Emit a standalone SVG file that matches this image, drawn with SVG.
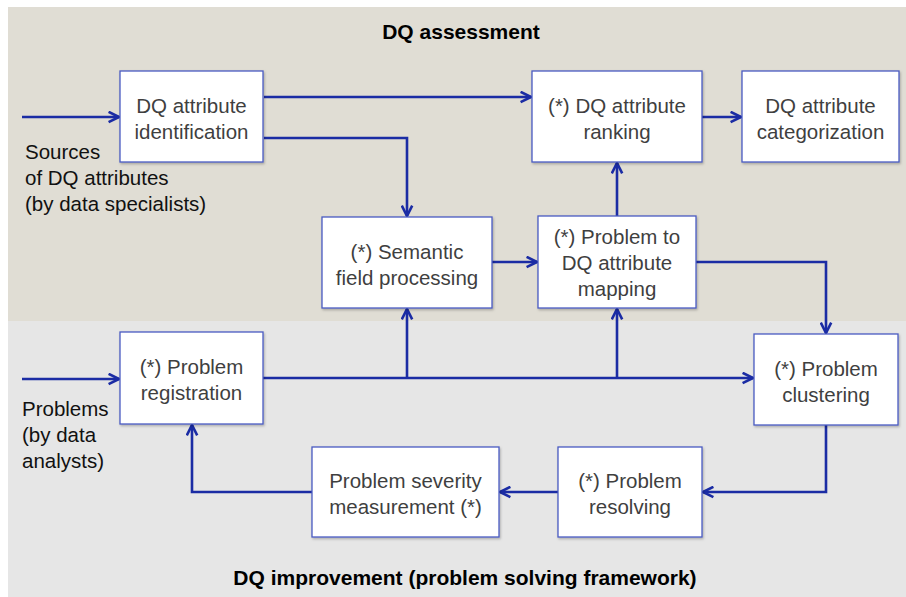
<svg xmlns="http://www.w3.org/2000/svg" width="906" height="597" viewBox="0 0 906 597">
<style>
.box{fill:#ffffff;stroke:#4a5bc2;stroke-width:1.3;filter:url(#sh)}
.nt{font-family:"Liberation Sans",Arial,sans-serif;font-size:20.5px;fill:#3f3f3f;text-anchor:middle}
.side{font-family:"Liberation Sans",Arial,sans-serif;font-size:20.5px;fill:#111111}
.title{font-family:"Liberation Sans",Arial,sans-serif;font-size:21px;font-weight:bold;fill:#000000;text-anchor:middle}
.c{fill:none;stroke:#1b2ca4;stroke-width:2.6;stroke-linejoin:miter;marker-end:url(#ah)}
</style>
<defs>
<marker id="ah" viewBox="0 0 10 10" refX="9" refY="5" markerWidth="5" markerHeight="5" markerUnits="strokeWidth" orient="auto">
<path d="M1,1 L9,5 L1,9" fill="none" stroke="#1b2ca4" stroke-width="2"/>
</marker>
<filter id="sh" x="-5%" y="-5%" width="115%" height="120%">
<feDropShadow dx="1" dy="1.5" stdDeviation="1" flood-color="#000000" flood-opacity="0.25"/>
</filter>
</defs>
<rect x="0" y="0" width="906" height="597" fill="#ffffff"/>
<rect x="8" y="7" width="898" height="314" fill="#e0ddd4"/>
<rect x="8" y="321" width="898" height="276" fill="#e6e6e6"/>
<text class="title" x="461" y="39">DQ assessment</text>
<text class="title" x="465" y="585">DQ improvement (problem solving framework)</text>
<g id="side-labels">
<text class="side" x="25" y="159">Sources</text>
<text class="side" x="25" y="185">of DQ attributes</text>
<text class="side" x="25" y="211">(by data specialists)</text>
<text class="side" x="22" y="416">Problems</text>
<text class="side" x="22" y="442">(by data</text>
<text class="side" x="22" y="468">analysts)</text>
</g>
<g id="connectors">
<path class="c" d="M22,117 H119"/>
<path class="c" d="M264,97 H531"/>
<path class="c" d="M264,138 H407 V216"/>
<path class="c" d="M702,117 H741"/>
<path class="c" d="M492,262 H537"/>
<path class="c" d="M617,216 V163"/>
<path class="c" d="M696,262 H826 V333"/>
<path class="c" d="M22,379 H119"/>
<path class="c" d="M263,378 H753"/>
<path class="c" d="M407,378 V309"/>
<path class="c" d="M617,378 V309"/>
<path class="c" d="M826,425 V492 H703"/>
<path class="c" d="M558,492 H500"/>
<path class="c" d="M312,492 H192 V425"/>
</g>
<g id="n-identification">
<rect class="box" x="120" y="71" width="143" height="91"/>
<text class="nt" x="191.5" y="113">DQ attribute</text>
<text class="nt" x="191.5" y="139">identification</text>
</g>
<g id="n-ranking">
<rect class="box" x="532" y="71" width="170" height="91"/>
<text class="nt" x="617" y="113">(*) DQ attribute</text>
<text class="nt" x="617" y="139">ranking</text>
</g>
<g id="n-categorization">
<rect class="box" x="742" y="71" width="157" height="91"/>
<text class="nt" x="820.5" y="113">DQ attribute</text>
<text class="nt" x="820.5" y="139">categorization</text>
</g>
<g id="n-semantic">
<rect class="box" x="322" y="217" width="170" height="91"/>
<text class="nt" x="407" y="259">(*) Semantic</text>
<text class="nt" x="407" y="285">field processing</text>
</g>
<g id="n-mapping">
<rect class="box" x="538" y="216" width="158" height="92"/>
<text class="nt" x="617" y="244">(*) Problem to</text>
<text class="nt" x="617" y="270">DQ attribute</text>
<text class="nt" x="617" y="296">mapping</text>
</g>
<g id="n-registration">
<rect class="box" x="120" y="332" width="143" height="92"/>
<text class="nt" x="191.5" y="374">(*) Problem</text>
<text class="nt" x="191.5" y="400">registration</text>
</g>
<g id="n-clustering">
<rect class="box" x="754" y="334" width="144" height="91"/>
<text class="nt" x="826" y="376">(*) Problem</text>
<text class="nt" x="826" y="402">clustering</text>
</g>
<g id="n-severity">
<rect class="box" x="312" y="447" width="187" height="90"/>
<text class="nt" x="405.5" y="488">Problem severity</text>
<text class="nt" x="405.5" y="514">measurement (*)</text>
</g>
<g id="n-resolving">
<rect class="box" x="558" y="447" width="144" height="90"/>
<text class="nt" x="630" y="488">(*) Problem</text>
<text class="nt" x="630" y="514">resolving</text>
</g>
</svg>
